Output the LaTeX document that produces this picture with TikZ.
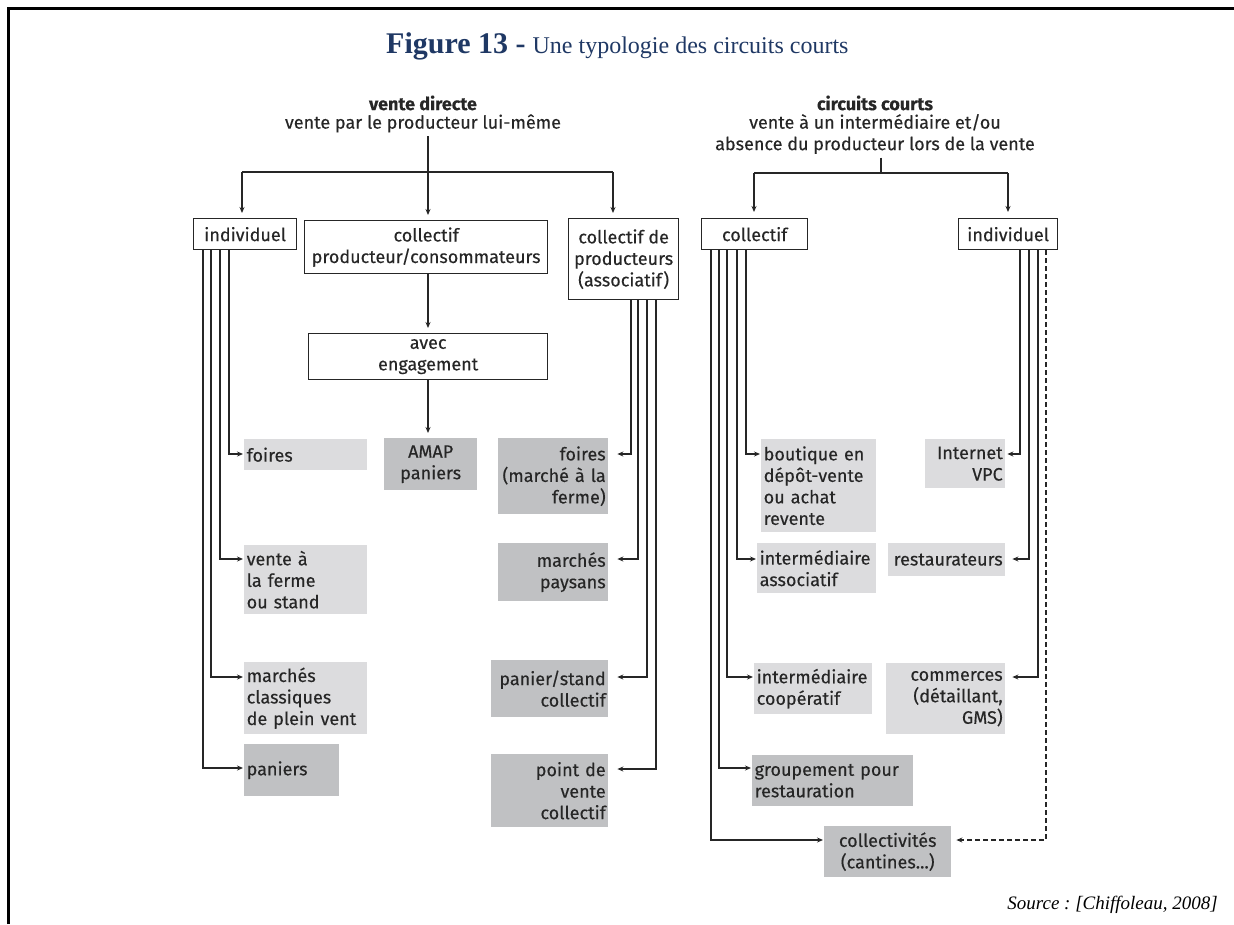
\documentclass[tikz,border=0pt]{standalone}
\usepackage{fontspec}
\setmainfont{Liberation Serif}
\newfontfamily\dfont{Fira Sans}[FakeBold=0.3]
\usetikzlibrary{arrows.meta,calc}
\definecolor{lightg}{HTML}{DCDCDE}
\definecolor{darkg}{HTML}{C0C1C3}
\definecolor{navy}{HTML}{1F3864}
\definecolor{ink}{HTML}{262626}
\begin{document}
\begin{tikzpicture}[x=1pt,y=-1pt,
  every node/.style={font=\dfont\fontsize{18}{21.5}\selectfont, text=ink},
  wbox/.style={draw=ink, line width=1.3pt, fill=white, anchor=north west, inner xsep=1pt, inner ysep=0pt, align=center},
  lbox/.style={fill=lightg, anchor=north west, inner xsep=2.5pt, inner ysep=0pt},
  dbox/.style={fill=darkg, anchor=north west, inner xsep=2.5pt, inner ysep=0pt},
  ln/.style={draw=ink, line width=1.2pt},
  arr/.style={draw=ink, line width=1.2pt, -{Stealth[length=6pt,width=5pt]}},
  darr/.style={arr, dashed, dash pattern=on 5pt off 3pt}]
\useasboundingbox (0,0) rectangle (1234,924);
% frame
\draw[line width=3pt] (8,924) -- (8,8) -- (1236,8);
% title and source
\node[anchor=base west, inner sep=0pt, font=\rmfamily, text=navy] (title) at (386,53) {{\fontsize{30}{33}\selectfont\bfseries Figure 13 -}\hspace{7pt}{\fontsize{24}{27}\selectfont Une typologie des circuits courts}};
\node[anchor=base east, inner sep=0pt, font=\rmfamily\itshape\fontsize{19}{22}\selectfont, text=black] (src) at (1218,909) {\frenchspacing Source : [Chiffoleau, 2008]};
% headers
\node[anchor=north, align=center] (vd) at (423,92) {{\bfseries vente directe}\\[-3pt]vente par le producteur lui-même};
\node[anchor=north, align=center] (cc) at (875,92) {{\bfseries circuits courts}\\[-3pt]vente à un intermédiaire et/ou\\absence du producteur lors de la vente};
% white boxes left
\node[wbox, minimum width=103pt, minimum height=31pt] (ind) at (193,218) {individuel};
\node[wbox, minimum width=243pt, minimum height=53pt] (cpc) at (304,220) {collectif\\producteur/consommateurs};
\node[wbox, minimum width=110pt, minimum height=81pt] (assoc) at (568,218) {collectif de\\producteurs\\(associatif)};
\node[wbox, minimum width=239pt, minimum height=46pt] (avec) at (308,333) {avec\\engagement};
% white boxes right
\node[wbox, minimum width=106pt, minimum height=31pt] (coll) at (701,218) {collectif};
\node[wbox, minimum width=99pt, minimum height=31pt] (rind) at (958,218) {individuel};
% left column
\node[lbox, text width=118pt, minimum height=31pt, align=left] (fo) at (244,439) {foires};
\node[lbox, text width=118pt, minimum height=69pt, align=left] (vf) at (244,545) {vente à\\la ferme\\ou stand};
\node[lbox, text width=118pt, minimum height=72pt, align=left] (mc) at (244,662) {marchés\\classiques\\de plein vent};
\node[dbox, text width=90pt, minimum height=52pt, align=left] (pa) at (244,744) {paniers\\[21.5pt]};
% amap
\node[dbox, text width=88pt, minimum height=52pt, align=center] (amap) at (384,438) {AMAP\\paniers};
% associatif column
\node[dbox, text width=105pt, minimum height=76pt, align=right] (fm) at (498,438) {foires\\(marché à la\\ferme)};
\node[dbox, text width=105pt, minimum height=58pt, align=right] (mp) at (498,543) {marchés\\paysans};
\node[dbox, text width=112pt, minimum height=57pt, align=right] (ps) at (491,660) {panier/stand\\collectif};
\node[dbox, text width=112pt, minimum height=73pt, align=right] (pv) at (491,754) {point de\\vente\\collectif};
% right collectif column
\node[lbox, text width=110pt, minimum height=93pt, align=left] (bo) at (761,439) {boutique en\\dépôt-vente\\ou achat\\revente};
\node[lbox, text width=114pt, minimum height=50pt, align=left] (ia) at (757,543) {intermédiaire\\associatif};
\node[lbox, text width=113pt, minimum height=51pt, align=left] (ic) at (754,663) {intermédiaire\\coopératif};
\node[dbox, text width=156pt, minimum height=51pt, align=left] (gr) at (752,755) {groupement pour\\restauration};
\node[dbox, text width=122pt, minimum height=51pt, align=center] (cv) at (824,826) {collectivités\\(cantines...)};
% right individuel column
\node[lbox, text width=75pt, minimum height=49pt, align=right] (iv) at (925,439) {Internet\\VPC};
\node[lbox, text width=112pt, minimum height=33pt, align=right] (re) at (888,543) {restaurateurs};
\node[lbox, text width=114pt, minimum height=71pt, align=right] (co) at (886,663) {commerces\\(détaillant,\\GMS)};
% left tree connectors
\coordinate (j1) at (428,172);
\coordinate (b1) at (242,172);
\coordinate (b3) at (613,172);
\draw[ln] (b1) -- (b3);
\draw[ln] (vd.south -| j1) -- (j1);
\draw[arr, shorten >=5pt] (j1) -- (j1 |- cpc.north);
\draw[arr, shorten >=5pt] (b1) -- (b1 |- ind.north);
\draw[arr, shorten >=5pt] (b3) -- (b3 |- assoc.north);
\draw[arr, shorten >=5pt] (cpc.south -| j1) -- (j1 |- avec.north);
\draw[arr, shorten >=5pt] (avec.south -| j1) -- (j1 |- amap.north);
% individuel (left) branches
\draw[arr, shorten >=1pt] ([xshift=36pt]ind.south west) |- ([yshift=-15pt]fo.north west);
\draw[arr, shorten >=1pt] ([xshift=27pt]ind.south west) |- ([yshift=-14pt]vf.north west);
\draw[arr, shorten >=1pt] ([xshift=18pt]ind.south west) |- ([yshift=-15pt]mc.north west);
\draw[arr, shorten >=1pt] ([xshift=10pt]ind.south west) |- ([yshift=-24pt]pa.north west);
% associatif branches
\draw[arr, shorten >=9pt] ([xshift=63pt]assoc.south west) |- ([yshift=-16pt]fm.north east);
\draw[arr, shorten >=9pt] ([xshift=70pt]assoc.south west) |- ([yshift=-16pt]mp.north east);
\draw[arr, shorten >=9pt] ([xshift=79pt]assoc.south west) |- ([yshift=-17pt]ps.north east);
\draw[arr, shorten >=9pt] ([xshift=88pt]assoc.south west) |- ([yshift=-15pt]pv.north east);
% right tree connectors
\coordinate (j2) at (881,173);
\coordinate (c1) at (754,173);
\coordinate (c2) at (1008,173);
\draw[ln] (cc.south -| j2) -- (j2);
\draw[ln] (c1) -- (c2);
\draw[arr, shorten >=6pt] (c1) -- (c1 |- coll.north);
\draw[arr, shorten >=6pt] (c2) -- (c2 |- rind.north);
% collectif branches
\draw[arr, shorten >=1pt] ([xshift=45pt]coll.south west) |- ([yshift=-15pt]bo.north west);
\draw[arr, shorten >=1pt] ([xshift=36pt]coll.south west) |- ([yshift=-16pt]ia.north west);
\draw[arr, shorten >=1pt] ([xshift=26pt]coll.south west) |- ([yshift=-14pt]ic.north west);
\draw[arr, shorten >=1pt] ([xshift=18pt]coll.south west) |- ([yshift=-13pt]gr.north west);
\draw[arr, shorten >=1pt] ([xshift=10pt]coll.south west) |- ([yshift=-14pt]cv.north west);
% individuel (right) branches
\draw[arr, shorten >=2pt] ([xshift=62pt]rind.south west) |- ([yshift=-15pt]iv.north east);
\draw[arr, shorten >=7pt] ([xshift=71pt]rind.south west) |- ([yshift=-16pt]re.north east);
\draw[arr, shorten >=7pt] ([xshift=80pt]rind.south west) |- ([yshift=-14pt]co.north east);
\draw[darr, shorten >=5pt] ([xshift=88pt]rind.south west) |- ([yshift=-14pt]cv.north east);
\end{tikzpicture}
\end{document}
